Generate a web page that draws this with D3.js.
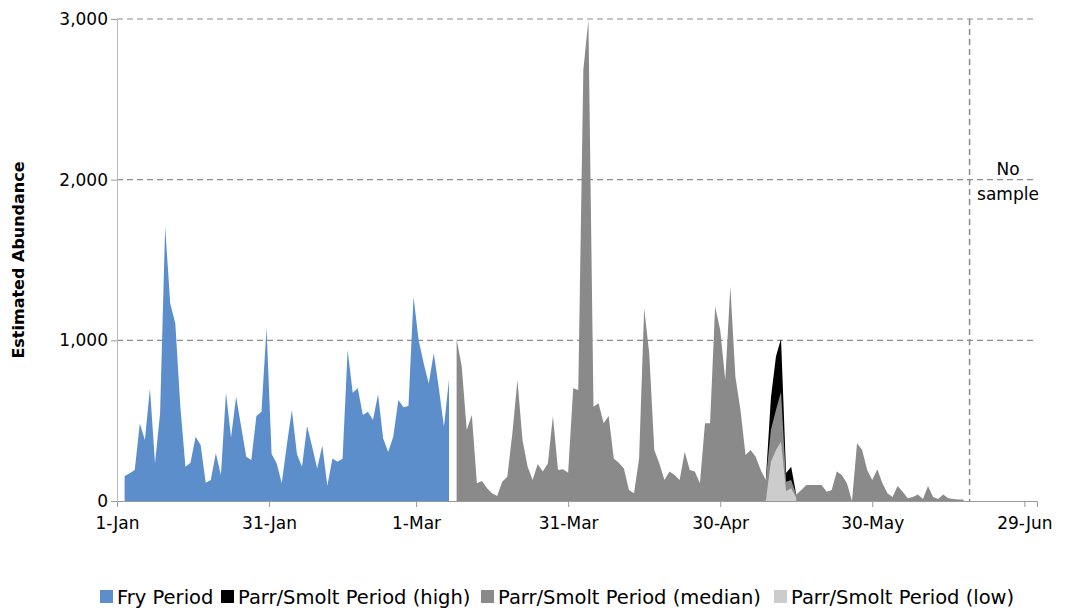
<!DOCTYPE html>
<html>
<head>
<meta charset="utf-8">
<script src="https://cdn.jsdelivr.net/npm/d3@7"></script>
<style>
  body { margin: 0; background: #fff; }
  text { font-family: "DejaVu Sans", Arial, sans-serif; }
</style>
</head>
<body>
<div id="chart"></div>
<script>
// days counted from 1-Jan (day 0)
const fryStart = 1.5
const fryValues = [156, 172, 193, 483, 380, 701, 235, 546, 1707, 1230, 1106, 587, 213, 238, 400, 348,
  114, 131, 297, 162, 674, 396, 649, 462, 276, 255, 529, 556, 1078, 292, 235, 110, 348, 566, 292,
  213, 467, 338, 203, 346, 95, 265, 245, 263, 940, 674, 701, 535, 556, 504, 664, 390, 305, 400, 628,
  583, 591, 1271, 1002, 857, 732, 921, 700, 462, 757]

const medStart = 67
const medValues = [1006, 840, 442, 535, 110, 125, 79, 48, 31, 120, 151, 421, 753, 380, 214, 131, 230,
  183, 234, 529, 193, 197, 176, 701, 691, 2682, 2997, 587, 608, 484, 529, 265, 238, 203, 68, 48, 265,
  1199, 919, 317, 234, 131, 183, 162, 131, 307, 193, 183, 110, 484, 484, 1209, 1064, 753, 1337, 774,
  566, 286, 317, 276, 193, 131, 442, 566, 680, 120, 130, 40, 68, 100, 100, 100, 100, 58, 68, 183, 162,
  110, 0, 359, 317, 193, 131, 197, 110, 48, 25, 93, 58, 17, 25, 40, 12, 93, 25, 12, 40, 17, 12, 10, 10]

const highDays = [128, 129, 130, 131, 132, 133, 134]
const highValues = [131, 640, 900, 1010, 174, 213, 40]
const lowDays = [128, 129, 130, 131, 132, 133, 134]
const lowValues = [0, 245, 317, 369, 60, 80, 20]

const xTicks = [0, 30, 59, 89, 119, 149, 179]
const xTickLabels = ['1-Jan', '31-Jan', '1-Mar', '31-Mar', '30-Apr', '30-May', '29-Jun']
const yTicks = [0, 1000, 2000, 3000]
const noSampleDay = 168.2

const legendItems = [
  { label: 'Fry Period', color: '#5b8ecb' },
  { label: 'Parr/Smolt Period (high)', color: '#000000' },
  { label: 'Parr/Smolt Period (median)', color: '#8a8a8a' },
  { label: 'Parr/Smolt Period (low)', color: '#cccccc' }
]

const width = 1068
const height = 611
const margin = { top: 19, right: 31, bottom: 110, left: 117 }

const svg = d3.select('#chart').append('svg').attr('width', width).attr('height', height)

const x = d3.scaleLinear().domain([0, 181.5]).range([margin.left, width - margin.right])
const y = d3.scaleLinear().domain([0, 3000]).range([height - margin.bottom, margin.top])

// gridlines
svg.append('g').selectAll('line')
  .data(yTicks.slice(1))
  .join('line')
  .attr('x1', margin.left).attr('x2', width - margin.right)
  .attr('y1', d => y(d)).attr('y2', d => y(d))
  .attr('stroke', '#8c8c8c').attr('stroke-width', 1.2).attr('stroke-dasharray', '6,4')

const area = d3.area()
  .x(d => x(d[0]))
  .y0(y(0))
  .y1(d => y(d[1]))

const fry = fryValues.map((v, i) => [fryStart + i, v])
const med = medValues.map((v, i) => [medStart + i, v])
const high = highDays.map((d, i) => [d, highValues[i]])
const low = lowDays.map((d, i) => [d, lowValues[i]])

svg.append('path').datum(fry).attr('d', area).attr('fill', legendItems[0].color)
svg.append('path').datum(high).attr('d', area).attr('fill', legendItems[1].color)
svg.append('path').datum(med).attr('d', area).attr('fill', legendItems[2].color)
svg.append('path').datum(low).attr('d', area).attr('fill', legendItems[3].color)

// no sample line
svg.append('line')
  .attr('x1', x(noSampleDay)).attr('x2', x(noSampleDay))
  .attr('y1', y(3000)).attr('y2', y(0))
  .attr('stroke', '#8c8c8c').attr('stroke-width', 1.5).attr('stroke-dasharray', '6,4')
svg.append('text').attr('x', 1008).attr('y', 175).attr('text-anchor', 'middle')
  .attr('font-size', 17).text('No')
svg.append('text').attr('x', 1008).attr('y', 200).attr('text-anchor', 'middle')
  .attr('font-size', 17).text('sample')

// axes
const xAxis = svg.append('g')
  .attr('transform', 'translate(0,' + y(0) + ')')
  .call(d3.axisBottom(x).tickValues(xTicks).tickFormat((d, i) => xTickLabels[i]).tickSize(6))
xAxis.select('.domain').attr('stroke', '#999')
xAxis.selectAll('.tick line').attr('stroke', '#999')
xAxis.selectAll('text').attr('font-size', 17).attr('fill', '#000').attr('dy', '1.1em')

const yAxis = svg.append('g')
  .attr('transform', 'translate(' + margin.left + ',0)')
  .call(d3.axisLeft(y).tickValues(yTicks).tickFormat(d3.format(',')).tickSize(6))
yAxis.select('.domain').attr('stroke', '#bbb')
yAxis.selectAll('.tick line').attr('stroke', '#999')
yAxis.selectAll('text').attr('font-size', 17).attr('fill', '#000')

svg.append('text')
  .attr('transform', 'translate(24,' + y(1500) + ') rotate(-90)')
  .attr('text-anchor', 'middle').attr('font-size', 16).attr('font-weight', 'bold')
  .text('Estimated Abundance')

// legend
const legendX = [100, 221, 481, 774]
const lg = svg.append('g').selectAll('g')
  .data(legendItems)
  .join('g')
  .attr('transform', (d, i) => 'translate(' + legendX[i] + ',590)')
lg.append('rect').attr('width', 13).attr('height', 13).attr('fill', d => d.color)
lg.append('text').attr('x', 17).attr('y', 14).attr('font-size', 19.5).text(d => d.label)
</script>
</body>
</html>
